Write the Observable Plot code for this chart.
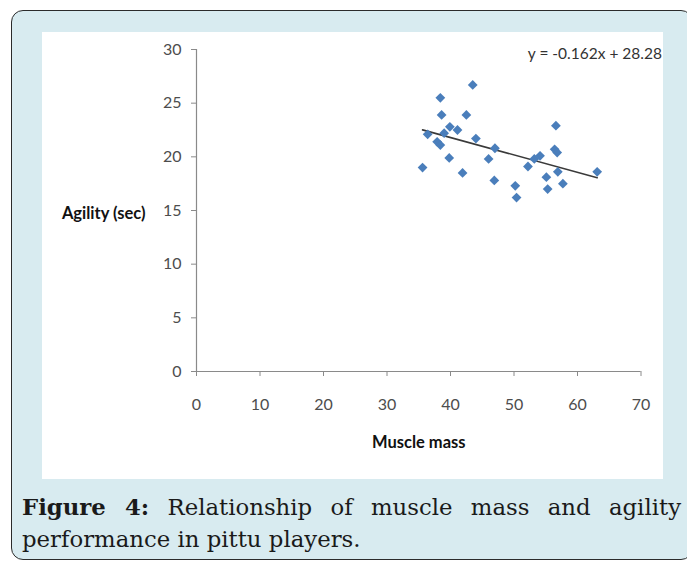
<!DOCTYPE html>
<html>
<head>
<meta charset="utf-8">
<script src="https://cdn.jsdelivr.net/npm/d3@7"></script>
<script src="https://cdn.jsdelivr.net/npm/@observablehq/plot@0.6"></script>
<style>
  html, body { margin: 0; padding: 0; width: 687px; height: 561px; overflow: hidden; background: #ffffff; }
  .frame { position: absolute; left: 11px; top: 10px; width: 680px; height: 548px;
           border: 1.5px solid #2b2b2b; border-radius: 12px; background: #d8ebf0; }
  .panel { position: absolute; left: 42px; top: 32px; width: 621px; height: 447px; background: #ffffff; }
  .caption { position: absolute; left: 22px; top: 491px; width: 659px;
             font-family: "DejaVu Serif", serif; font-size: 22.8px; line-height: 32px;
             color: #1a1a1a; }
  .caption .l1 { display: block; text-align: justify; text-align-last: justify; }
  .caption .l2 { display: block; text-align: left; }
  .caption b { font-weight: bold; }
</style>
</head>
<body>
<div class="frame"></div>
<div class="panel" id="chart"></div>
<div class="caption"><span class="l1"><b>Figure 4:</b> Relationship of muscle mass and agility</span><span class="l2">performance in pittu players.</span></div>
<script>
// Muscle mass (x) and agility time in seconds (y) per player
const muscleMass = [35.6, 36.4, 38.4, 38.6, 37.9, 38.4, 39.0, 39.9, 39.8, 41.1,
                    41.9, 42.5, 43.5, 44.0, 46.0, 47.0, 46.9, 50.2, 50.4, 52.2,
                    53.2, 54.1, 55.1, 55.3, 56.4, 56.8, 56.6, 56.9, 57.7, 63.1];
const agility    = [19.0, 22.1, 25.5, 23.9, 21.4, 21.1, 22.2, 22.8, 19.9, 22.5,
                    18.5, 23.9, 26.7, 21.7, 19.8, 20.8, 17.8, 17.3, 16.2, 19.1,
                    19.8, 20.1, 18.1, 17.0, 20.7, 20.4, 22.9, 18.6, 17.5, 18.6];
const trendSlope = -0.162;
const trendIntercept = 28.28;
const equationLabel = "y = -0.162x + 28.28";
const xTicks = [0, 10, 20, 30, 40, 50, 60, 70];
const yTicks = [0, 5, 10, 15, 20, 25, 30];
const xLabel = "Muscle mass";
const yLabel = "Agility (sec)";

const points = muscleMass.map((m, i) => ({mass: m, agility: agility[i]}));
const xMin = d3.min(muscleMass), xMax = d3.max(muscleMass);
const trend = [xMin, xMax].map(x => ({mass: x, agility: trendSlope * x + trendIntercept}));

const chart = Plot.plot({
  width: 621,
  height: 447,
  marginLeft: 154,
  marginRight: 22.5,
  marginTop: 17,
  marginBottom: 108,
  style: {background: "white", fontFamily: "Lato, sans-serif", fontSize: "16px", overflow: "visible"},
  x: {domain: [0, 70]},
  y: {domain: [0, 30]},
  marks: [
    Plot.ruleY([0], {stroke: "#8a8a8a", strokeWidth: 1.2}),
    Plot.ruleX([0], {stroke: "#8a8a8a", strokeWidth: 1.2}),
    Plot.axisX({ticks: xTicks, tickSize: 5, tickPadding: 22, stroke: "#8a8a8a", fill: "#4d4d4d", label: null, fontSize: 16}),
    Plot.axisY({ticks: yTicks, tickSize: 5, tickPadding: 10, stroke: "#8a8a8a", fill: "#4d4d4d", label: null, fontSize: 16}),
    Plot.line(trend, {x: "mass", y: "agility", stroke: "#3a3a3a", strokeWidth: 1.6}),
    Plot.dot(points, {x: "mass", y: "agility", symbol: "diamond2", r: 4.4, fill: "#4a7ebb", stroke: "none"}),
    Plot.text([yLabel], {frameAnchor: "left", dx: -51, dy: 3, textAnchor: "end", fontWeight: "bold", fontSize: 16.5, fill: "#111"}),
    Plot.text([xLabel], {frameAnchor: "bottom", dy: 76, fontWeight: "bold", fontSize: 16.5, fill: "#111"}),
    Plot.text([equationLabel], {frameAnchor: "top-right", dx: 21, dy: -2, textAnchor: "end", fontSize: 15.5, fill: "#333"})
  ]
});
document.getElementById("chart").appendChild(chart);
</script>
</body>
</html>
